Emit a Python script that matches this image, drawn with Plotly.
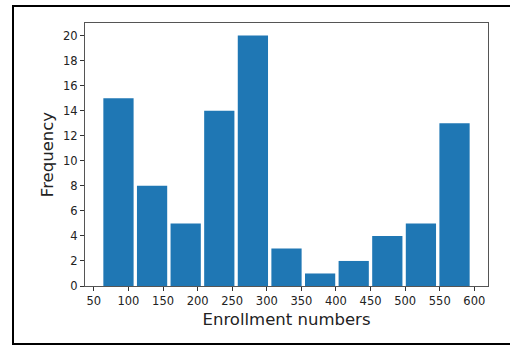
import numpy as np
import plotly.graph_objects as go

# Histogram of enrollment numbers: 11 equal-width bins
bin_lo = 61.3
bin_hi = 595.7
counts = [15, 8, 5, 14, 20, 3, 1, 2, 4, 5, 13]
x_ticks = [50, 100, 150, 200, 250, 300, 350, 400, 450, 500, 550, 600]
y_ticks = [0, 2, 4, 6, 8, 10, 12, 14, 16, 18, 20]

edges = np.linspace(bin_lo, bin_hi, len(counts) + 1)
centers = (edges[:-1] + edges[1:]) / 2

W, H = 510, 346
ML, MR, MT, MB = 85, 22, 23, 60
pw, ph = W - ML - MR, H - MT - MB


def px_to_paper(px, py):
    return (px - ML) / pw, 1 - (py - MT) / ph


font = dict(family="DejaVu Sans", color="#222222")

fig = go.Figure(
    go.Bar(
        x=centers,
        y=counts,
        marker=dict(color="#1f77b4", line=dict(width=0)),
        hoverinfo="skip",
    )
)

# Outer figure border
bx0, by0 = px_to_paper(13, 6)
bx1, by1 = px_to_paper(512, 344)
fig.add_shape(
    type="rect", xref="paper", yref="paper",
    x0=bx0, y0=by1, x1=bx1, y1=by0,
    line=dict(color="black", width=2), fillcolor="rgba(0,0,0,0)", layer="above",
)

fig.update_layout(
    width=W,
    height=H,
    margin=dict(l=ML, r=MR, t=MT, b=MB),
    paper_bgcolor="white",
    plot_bgcolor="white",
    bargap=0.1,
    showlegend=False,
    font=dict(size=11.5, **font),
)
fig.update_xaxes(
    range=[37.2, 619.8],
    tickvals=x_ticks,
    ticks="outside",
    ticklen=4,
    tickcolor="#333333",
    showgrid=False,
    zeroline=False,
    showline=True,
    mirror=True,
    linecolor="#555555",
    linewidth=1,
    tickfont=dict(size=11.5, **font),
    title=dict(text="Enrollment numbers", font=dict(size=16.5, **font), standoff=6),
)
fig.update_yaxes(
    range=[0, 21],
    tickvals=y_ticks,
    ticks="outside",
    ticklen=4,
    tickcolor="#333333",
    showgrid=False,
    zeroline=False,
    showline=True,
    mirror=True,
    linecolor="#555555",
    linewidth=1,
    tickfont=dict(size=11.5, **font),
    title=dict(text="Frequency", font=dict(size=16.5, **font), standoff=5),
)

fig.write_html("out.html")
